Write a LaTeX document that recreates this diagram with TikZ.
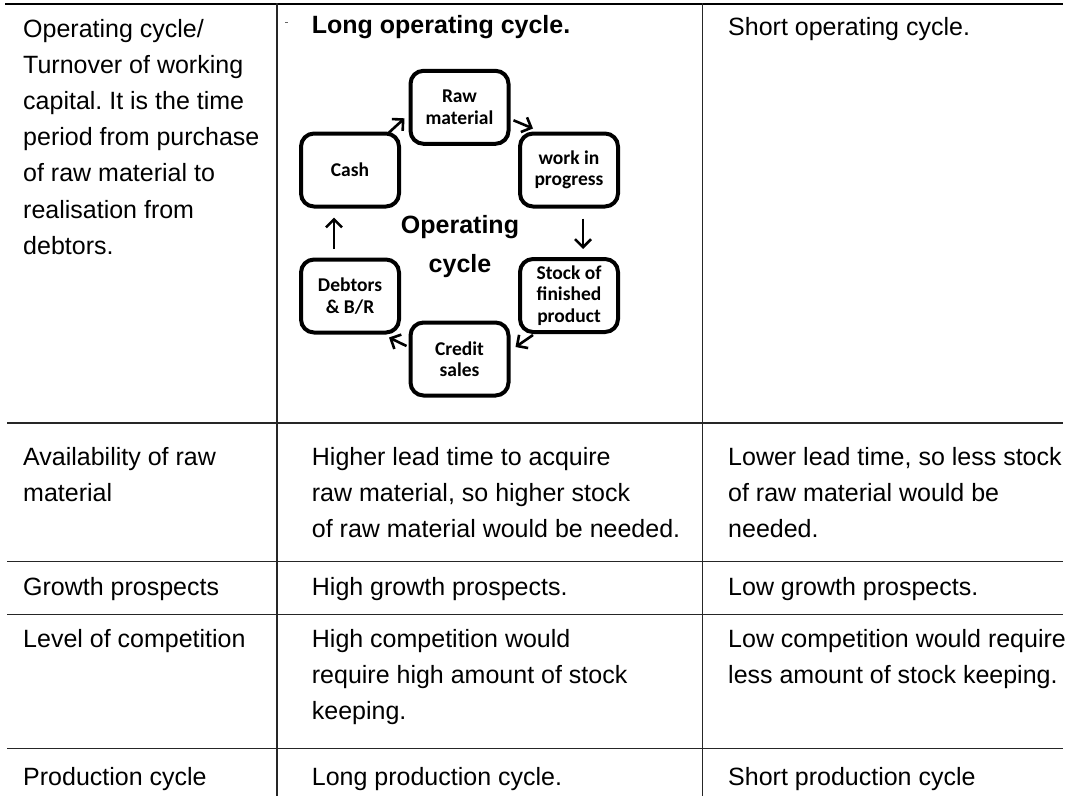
\documentclass[tikz,border=0pt]{standalone}
\usepackage{fontspec}
\setmainfont{Liberation Sans}
\newfontfamily\boxfont{Carlito}
\usetikzlibrary{arrows.meta,calc}
\frenchspacing
\begin{document}
\begin{tikzpicture}[x=1pt,y=-1pt,
  rule/.style={line width=1.2pt, draw=black!85},
  toprule/.style={line width=2pt, draw=black},
  cell/.style={anchor=base west, inner sep=0pt, font=\fontsize{25}{36.2}\selectfont\frenchspacing},
  cyc/.style={draw, line width=4pt, rounded corners=13pt, minimum width=98pt, minimum height=73pt, inner sep=0pt, align=center, font=\boxfont\bfseries\fontsize{19.5}{21.5}\selectfont},
  arr/.style={line width=2.6pt, -{Straight Barb[length=8pt,width=16pt]}}
]
\useasboundingbox (0,0) rectangle (1067,796);
% table rules
\draw[toprule] (5,3.5) -- (1063,3.5);
\draw[rule] (7,423) -- (1063,423);
\draw[rule] (7,561.5) -- (1063,561.5);
\draw[rule] (7,614.5) -- (1063,614.5);
\draw[rule] (7,748.5) -- (1063,748.5);
\draw[rule] (277,3) -- (277,796);
\draw[rule] (702.5,3) -- (702.5,796);
\draw[line width=0.6pt, black!60] (285,22) -- (287.5,22);
% row 1
\node[cell] (c11) at (23,37) {\parbox[t]{250pt}{\frenchspacing Operating cycle/\\Turnover of working\\capital. It is the time\\period from purchase\\of raw material to\\realisation from\\debtors.}};
\node[cell, font=\fontsize{25}{30}\selectfont\bfseries] (c12) at (311.7,33) {Long operating cycle.};
\node[cell] (c13) at (728,35) {Short operating cycle.};
% cycle diagram
\node[cyc] (raw) at (459.5,107.3) {Raw\\material};
\node[cyc] (cash) at (350,170) {Cash};
\node[cyc] (work) at (569,170) {work in\\progress};
\node[cyc] (debt) at (350,296) {Debtors\\\& B/R};
\node[cyc] (stock) at (569,295.5) {Stock of\\finished\\product};
\node[cyc] (credit) at (459.5,359) {Credit\\sales};
\node[anchor=base, inner sep=0pt, font=\fontsize{25}{39}\selectfont\bfseries, align=center] (oc) at (460,233) {\parbox[t]{200pt}{\centering Operating\\cycle}};
\draw[arr] ($(cash.north east)+(-12,1)$) -- ($(raw.west)+(-4,11)$);
\draw[arr] ($(raw.east)+(3,13)$) -- ($(work.north west)+(15,-3)$);
\draw[arr] ($(work.south)+(14,10)$) -- ($(stock.north)+(14,-8)$);
\draw[arr] ($(stock.south west)+(15,1)$) -- ($(credit.east)+(5,-12)$);
\draw[arr] ($(credit.west)+(-2,-13)$) -- ($(debt.south east)+(-12,3)$);
\draw[arr] ($(debt.north)+(-16,-9)$) -- ($(cash.south)+(-16,9)$);
% row 2
\node[cell] (c21) at (23,465) {\parbox[t]{250pt}{Availability of raw\\material}};
\node[cell] (c22) at (311.7,465) {\parbox[t]{390pt}{Higher lead time to acquire\\raw material, so higher stock\\of raw material would be needed.}};
\node[cell] (c23) at (728,465) {\parbox[t]{340pt}{Lower lead time, so less stock\\of raw material would be\\needed.}};
% row 3
\node[cell] (c31) at (23,595) {Growth prospects};
\node[cell] (c32) at (311.7,595) {High growth prospects.};
\node[cell] (c33) at (728,595) {Low growth prospects.};
% row 4
\node[cell] (c41) at (23,647) {Level of competition};
\node[cell] (c42) at (311.7,647) {\parbox[t]{390pt}{High competition would\\require high amount of stock\\keeping.}};
\node[cell] (c43) at (728,647) {\parbox[t]{340pt}{Low competition would require\\less amount of stock keeping.}};
% row 5
\node[cell] (c51) at (23,785) {Production cycle};
\node[cell] (c52) at (311.7,785) {Long production cycle.};
\node[cell] (c53) at (728,785) {Short production cycle};
\end{tikzpicture}
\end{document}
